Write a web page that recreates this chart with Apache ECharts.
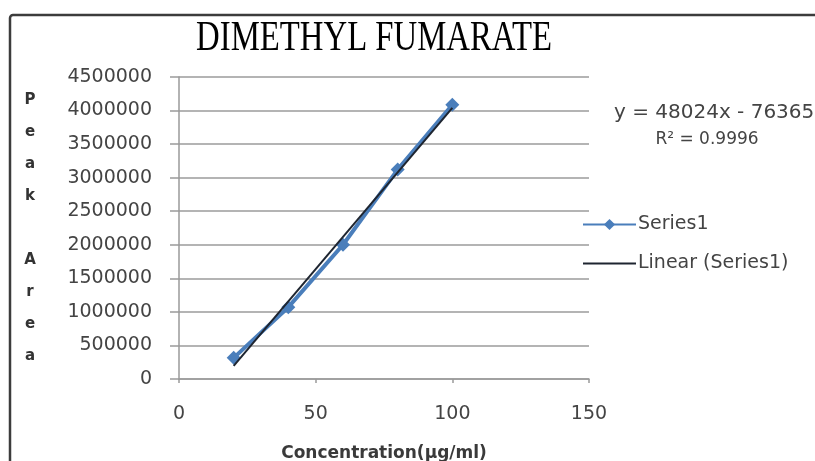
<!DOCTYPE html>
<html>
<head>
<meta charset="utf-8">
<title>Dimethyl Fumarate calibration</title>
<script src="https://cdn.jsdelivr.net/npm/echarts@6/dist/echarts.min.js"></script>
<style>
  html, body { margin: 0; padding: 0; background: #ffffff; }
  #chart { width: 815px; height: 461px; }
</style>
</head>
<body>
<div id="chart"></div>
<script>
// Calibration data: concentration (µg/ml) vs peak area
const concentrations = [20, 40, 60, 80, 100];
const peakAreas = [315000, 1070000, 2000000, 3120000, 4085000];

// Least-squares trendline as reported on the chart
const trendSlope = 48024;
const trendIntercept = -763650;
const rSquared = '0.9996';

// Axis tick values
const xTickValues = [0, 50, 100, 150];
const yTickValues = [0, 500000, 1000000, 1500000, 2000000, 2500000, 3000000, 3500000, 4000000, 4500000];

const chartTitle = 'DIMETHYL FUMARATE';
const xAxisTitle = 'Concentration(µg/ml)';
const yAxisTitle = 'Peak Area';
const seriesName = 'Series1';
const trendName = 'Linear (Series1)';

const pointData = concentrations.map((c, i) => [c, peakAreas[i]]);
const trendEnds = [concentrations[0], concentrations[concentrations.length - 1]];
const trendData = trendEnds.map(c => [c, trendSlope * c + trendIntercept]);
const equationText = 'y = ' + trendSlope + 'x - ' + Math.abs(trendIntercept);

const labelFont = 'DejaVu Sans';
const labelColor = '#444444';

const chart = echarts.init(document.getElementById('chart'), null, { renderer: 'canvas' });

chart.setOption({
  backgroundColor: '#ffffff',
  animation: false,
  grid: { left: 179, right: 226, top: 77, bottom: 82, containLabel: false, outerBoundsMode: 'none' },
  xAxis: {
    type: 'value',
    min: xTickValues[0],
    max: xTickValues[xTickValues.length - 1],
    interval: xTickValues[1] - xTickValues[0],
    name: xAxisTitle,
    nameLocation: 'middle',
    nameGap: 66,
    nameTextStyle: { fontFamily: labelFont, fontWeight: 'bold', fontSize: 17, color: '#3a3a3a' },
    axisLine: { lineStyle: { color: '#9a9a9a', width: 1.5 } },
    axisTick: { show: true, inside: false, length: 4, lineStyle: { color: '#9a9a9a', width: 1.5 } },
    axisLabel: { fontFamily: labelFont, fontSize: 19, color: labelColor, margin: 26, formatter: v => String(v) },
    splitLine: { show: false }
  },
  yAxis: {
    type: 'value',
    min: yTickValues[0],
    max: yTickValues[yTickValues.length - 1],
    interval: yTickValues[1] - yTickValues[0],
    name: yAxisTitle.split('').map(ch => ch === ' ' ? '' : ch).join('\n'),
    nameLocation: 'middle',
    nameRotate: 0,
    nameGap: 149,
    nameTextStyle: { fontFamily: labelFont, fontWeight: 'bold', fontSize: 15, color: '#333333', lineHeight: 32, align: 'center', verticalAlign: 'middle' },
    axisLine: { show: true, lineStyle: { color: '#9a9a9a', width: 1.5 } },
    axisTick: { show: true, inside: false, length: 9, lineStyle: { color: '#9a9a9a', width: 1.5 } },
    axisLabel: { fontFamily: labelFont, fontSize: 19, color: labelColor, margin: 27, formatter: v => String(v) },
    splitLine: { show: true, lineStyle: { color: '#b4b4b4', width: 2 } }
  },
  legend: {
    orient: 'vertical',
    left: 577,
    top: 210,
    itemWidth: 53,
    itemHeight: 14,
    itemGap: 20,
    data: [
      { name: seriesName },
      { name: trendName, itemStyle: { opacity: 0 } }
    ],
    textStyle: { fontFamily: labelFont, fontSize: 19, color: labelColor, padding: [0, 0, 0, -3] }
  },
  series: [
    {
      name: seriesName,
      type: 'line',
      data: pointData,
      symbol: 'diamond',
      symbolSize: 14,
      lineStyle: { color: '#4a7ebb', width: 4 },
      itemStyle: { color: '#4a7ebb' },
      z: 2
    },
    {
      name: trendName,
      type: 'line',
      data: trendData,
      symbol: 'none',
      lineStyle: { color: '#1e2530', width: 2 },
      itemStyle: { color: '#1e2530' },
      z: 3
    }
  ],
  graphic: [
    {
      type: 'rect',
      shape: { x: 10, y: 15, width: 900, height: 600, r: 3 },
      style: { fill: 'none', stroke: '#3c3c3c', lineWidth: 2.5 },
      silent: true
    },
    {
      type: 'text',
      x: 374,
      y: 39,
      scaleX: 0.78,
      style: {
        text: chartTitle,
        font: '42px "Liberation Serif"',
        fill: '#000000',
        align: 'center',
        verticalAlign: 'middle'
      }
    },
    {
      type: 'text',
      x: 827,
      y: 113,
      style: {
        text: equationText,
        font: '20px "DejaVu Sans"',
        fill: labelColor,
        align: 'right',
        verticalAlign: 'middle'
      }
    },
    {
      type: 'text',
      x: 707,
      y: 140,
      style: {
        text: 'R² = ' + rSquared,
        font: '17px "DejaVu Sans"',
        fill: labelColor,
        align: 'center',
        verticalAlign: 'middle'
      }
    }
  ]
});
</script>
</body>
</html>
